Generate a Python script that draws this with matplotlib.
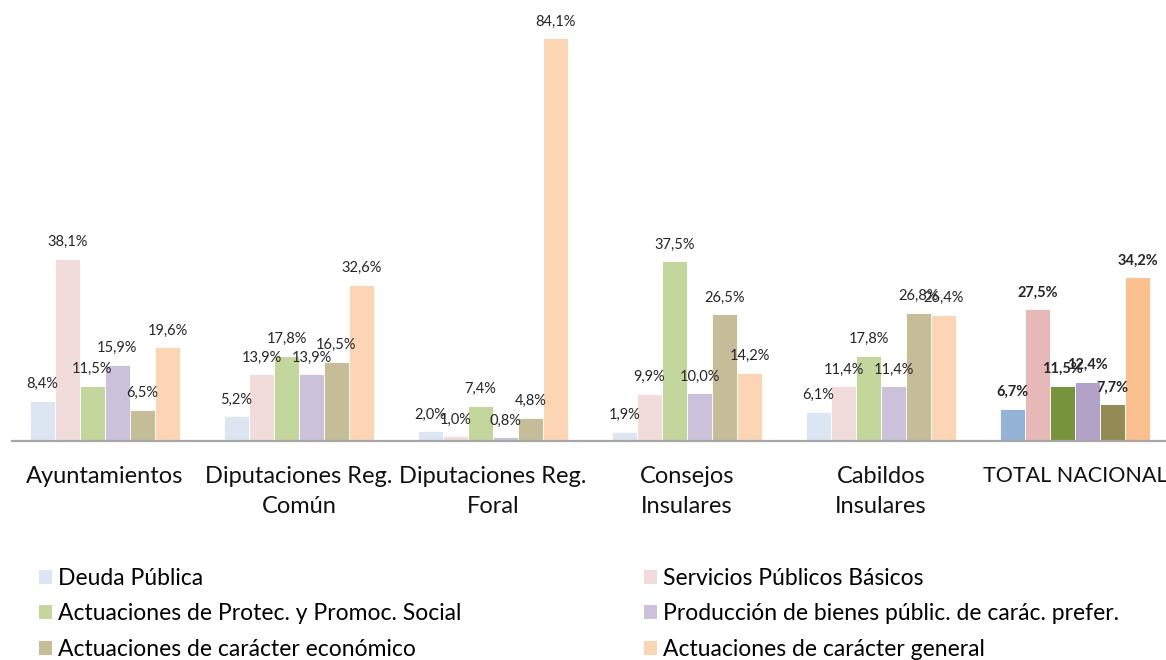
import matplotlib
matplotlib.use("Agg")
import matplotlib.pyplot as plt
from matplotlib.patches import Patch
import numpy as np

plt.rcParams['font.family'] = ['Lato', 'DejaVu Sans']

categories = ["Ayuntamientos", "Diputaciones Reg.\nComún", "Diputaciones Reg.\nForal",
              "Consejos\nInsulares", "Cabildos\nInsulares", "TOTAL NACIONAL"]
series_names = ["Deuda Pública", "Servicios Públicos Básicos",
                "Actuaciones de Protec. y Promoc. Social",
                "Producción de bienes públic. de carác. prefer.",
                "Actuaciones de carácter económico",
                "Actuaciones de carácter general"]
deuda = [8.4, 5.2, 2.0, 1.9, 6.1, 6.7]
servicios = [38.1, 13.9, 1.0, 9.9, 11.4, 27.5]
protec = [11.5, 17.8, 7.4, 37.5, 17.8, 11.5]
produccion = [15.9, 13.9, 0.8, 10.0, 11.4, 12.4]
economico = [6.5, 16.5, 4.8, 26.5, 26.8, 7.7]
general = [19.6, 32.6, 84.1, 14.2, 26.4, 34.2]
values = [deuda, servicios, protec, produccion, economico, general]

light_colors = ["#DCE6F2", "#F2DCDB", "#C3D69B", "#CCC1DA", "#C4BD97", "#FCD5B5"]
dark_colors = ["#95B3D7", "#E6B9B8", "#77933C", "#B3A2C7", "#948A54", "#FAC090"]

fig = plt.figure(figsize=(11.66, 6.6), dpi=100)
ax = fig.add_axes([12/1166, 219/660, 1154/1166, 431/660])

x = np.arange(len(categories))
bw = 25/194
for i, vals in enumerate(values):
    offs = (i - 2.5) * bw
    cols = [light_colors[i]] * (len(categories) - 1) + [dark_colors[i]]
    bars = ax.bar(x + offs, vals, width=bw, color=cols, edgecolor='white', linewidth=0.6)
    for j, (b, v) in enumerate(zip(bars, vals)):
        bold = (j == len(categories) - 1)
        ax.annotate(f"{v:.1f}%".replace('.', ','),
                    (b.get_x() + b.get_width()/2, v), xytext=(0, 12),
                    textcoords='offset points', ha='center', va='center',
                    fontsize=10.5, color='#262626',
                    fontweight='bold' if bold else 'normal')

ax.set_xlim(-0.479, 5.469)
ax.set_ylim(0, 90)
ax.set_xticks(x)
ax.set_xticklabels(categories, fontsize=17, color='#111111', linespacing=1.55)
ax.get_xticklabels()[-1].set_fontsize(15.5)
ax.tick_params(axis='x', length=0, pad=18)
ax.set_yticks([])
for s in ['top', 'left', 'right']:
    ax.spines[s].set_visible(False)
ax.spines['bottom'].set_color('#A6A6A6')
ax.spines['bottom'].set_linewidth(1.6)

handles = [Patch(facecolor=c, edgecolor='none') for c in light_colors]
col1 = [0, 2, 4]
col2 = [1, 3, 5]
common = dict(frameon=False, fontsize=16.5, handlelength=0.55, handleheight=0.55,
              handletextpad=0.3, labelspacing=0.63, loc='upper left', borderaxespad=0,
              borderpad=0)
leg1 = fig.legend([handles[i] for i in col1], [series_names[i] for i in col1],
                  bbox_to_anchor=(39/1166, 1 - 568/660), **common)
leg2 = fig.legend([handles[i] for i in col2], [series_names[i] for i in col2],
                  bbox_to_anchor=(644/1166, 1 - 568/660), **common)

fig.savefig("out.png", dpi=100)
